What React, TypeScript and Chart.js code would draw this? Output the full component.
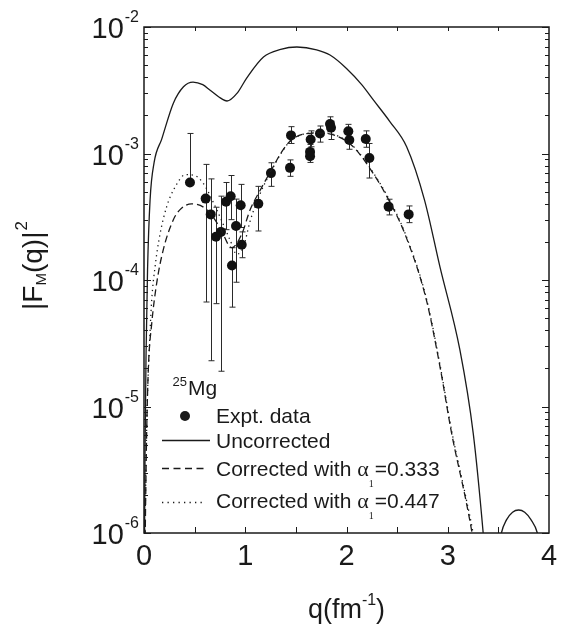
import React, { useEffect, useRef } from "react";
import { Chart, registerables } from "chart.js";
Chart.register(...registerables);

// ---- Uncorrected (solid) ----
const solidQ = [0.004, 0.01, 0.02, 0.035, 0.06, 0.1, 0.175, 0.29, 0.39, 0.484, 0.58, 0.65, 0.74, 0.82, 0.92, 1.014, 1.18, 1.35, 1.51, 1.705, 1.837, 2.0, 2.15, 2.265, 2.43, 2.594, 2.77, 2.923, 3.12, 3.252, 3.35, 3.38, 3.45, 3.5, 3.53, 3.58, 3.64, 3.7, 3.76, 3.82, 3.885, 3.92];
const solidF: (number | null)[] = [5e-7, 4e-6, 2.5e-5, 1.2e-4, 4.3e-4, 8.5e-4, 1.3e-3, 2.5e-3, 3.37e-3, 3.67e-3, 3.5e-3, 3.18e-3, 2.8e-3, 2.6e-3, 3.0e-3, 3.95e-3, 5.8e-3, 6.66e-3, 6.95e-3, 6.6e-3, 6.0e-3, 4.7e-3, 3.5e-3, 2.65e-3, 1.78e-3, 1.13e-3, 4.3e-4, 1.27e-4, 2.8e-5, 6.1e-6, 1e-6, 5e-7, null, 7e-7, 1e-6, 1.27e-6, 1.46e-6, 1.52e-6, 1.46e-6, 1.28e-6, 1e-6, 7e-7];

// ---- Corrected with alpha1 = 0.333 (dashed) ----
const dashQ = [0.008, 0.015, 0.026, 0.043, 0.076, 0.125, 0.19, 0.29, 0.356, 0.47, 0.62, 0.75, 0.866, 0.965, 1.047, 1.146, 1.277, 1.36, 1.442, 1.573, 1.738, 1.9, 2.067, 2.232, 2.397, 2.578, 2.79, 2.923, 3.039, 3.18, 3.24, 3.27];
const dashF = [5e-7, 1.5e-6, 6e-6, 2e-5, 4.5e-5, 9.4e-5, 1.73e-4, 3e-4, 3.6e-4, 4e-4, 3.6e-4, 2.6e-4, 1.8e-4, 2.3e-4, 3.57e-4, 5.1e-4, 7.9e-4, 1.03e-3, 1.25e-3, 1.42e-3, 1.45e-3, 1.38e-3, 1.13e-3, 7.6e-4, 4.6e-4, 2.3e-4, 6.9e-5, 2.07e-5, 6.1e-6, 1.8e-6, 1e-6, 7e-7];

// ---- Corrected with alpha1 = 0.447 (dotted) ----
const dotQ = [0.008, 0.015, 0.033, 0.052, 0.076, 0.109, 0.158, 0.224, 0.3, 0.41, 0.5, 0.586, 0.718, 0.85, 0.915, 0.98, 1.047, 1.146, 1.277, 1.36, 1.442, 1.573, 1.738, 1.9, 2.067, 2.232, 2.397, 2.578, 2.79, 2.923, 3.039, 3.18, 3.25, 3.28];
const dotF = [6e-7, 2e-6, 1.1e-5, 2.8e-5, 6.9e-5, 1.27e-4, 2.3e-4, 3.8e-4, 5.3e-4, 6.8e-4, 6.7e-4, 5.8e-4, 3.6e-4, 2.07e-4, 1.6e-4, 1.8e-4, 2.9e-4, 4.8e-4, 7.8e-4, 1.02e-3, 1.25e-3, 1.42e-3, 1.46e-3, 1.39e-3, 1.14e-3, 7.7e-4, 4.7e-4, 2.35e-4, 7.1e-5, 2.15e-5, 6.4e-6, 1.9e-6, 1e-6, 7e-7];

// ---- Experimental data ----
const expQ = [0.454, 0.609, 0.659, 0.711, 0.76, 0.81, 0.856, 0.869, 0.909, 0.955, 0.965, 1.129, 1.254, 1.442, 1.452, 1.64, 1.64, 1.646, 1.738, 1.837, 1.847, 2.018, 2.028, 2.19, 2.226, 2.416, 2.614];
const expF = [5.9e-4, 4.4e-4, 3.3e-4, 2.2e-4, 2.4e-4, 4.16e-4, 4.6e-4, 1.3e-4, 2.67e-4, 3.9e-4, 1.9e-4, 4.0e-4, 7.0e-4, 7.7e-4, 1.39e-3, 1.03e-3, 9.5e-4, 1.29e-3, 1.44e-3, 1.71e-3, 1.6e-3, 1.5e-3, 1.28e-3, 1.3e-3, 9.2e-4, 3.8e-4, 3.3e-4];
const expLo = [5.9e-4, 6.7e-5, 2.3e-5, 6.5e-5, 1.9e-5, 2.5e-4, 3.0e-4, 6.1e-5, 9.6e-5, 2.6e-4, 1.5e-4, 2.44e-4, 5.5e-4, 6.6e-4, 1.2e-3, 9.0e-4, 8.5e-4, 1.13e-3, 1.23e-3, 1.5e-3, 1.29e-3, 1.3e-3, 1.08e-3, 1.12e-3, 6.4e-4, 3.27e-4, 2.84e-4];
const expHi = [1.44e-3, 8.2e-4, 6.3e-4, 3.76e-4, 4.6e-4, 5.9e-4, 6.7e-4, 1.8e-4, 4.36e-4, 5.7e-4, 2.4e-4, 5.5e-4, 8.45e-4, 8.9e-4, 1.63e-3, 1.18e-3, 1.07e-3, 1.51e-3, 1.65e-3, 1.95e-3, 1.8e-3, 1.7e-3, 1.45e-3, 1.51e-3, 1.2e-3, 4.35e-4, 3.85e-4];

// ---- Axes ----
const xTickValues = [0, 1, 2, 3, 4];
const xTickLabels = ["0", "1", "2", "3", "4"];
const yDecades = [-6, -5, -4, -3, -2];
const yTickExps = ["-6", "-5", "-4", "-3", "-2"];

const legendTitle = { sup: "25", main: "Mg" };
const legendLabels = ["Expt. data", "Uncorrected", "Corrected with ", "Corrected with "];
const alphaValues = ["=0.333", "=0.447"];

const SANS = '"Liberation Sans", Arial, Helvetica, sans-serif';
const SERIF = '"Liberation Serif", "Times New Roman", serif';
const INK = "#1a1a1a";

const zip = (q: number[], f: (number | null)[]) => q.map((v, i) => ({ x: v, y: f[i] }));

const decor = {
  id: "decor",
  beforeDatasetsDraw(chart: any) {
    const { ctx, scales } = chart;
    const x = scales.x, y = scales.y;
    ctx.save();
    ctx.strokeStyle = "#2a2a2a";
    ctx.lineWidth = 1;
    for (let i = 0; i < expQ.length; i++) {
      const px = Math.round(x.getPixelForValue(expQ[i])) + 0.5;
      const yl = y.getPixelForValue(expLo[i]);
      const yh = y.getPixelForValue(expHi[i]);
      ctx.beginPath();
      ctx.moveTo(px, yl);
      ctx.lineTo(px, yh);
      ctx.moveTo(px - 3, yh);
      ctx.lineTo(px + 3, yh);
      ctx.moveTo(px - 3, yl);
      ctx.lineTo(px + 3, yl);
      ctx.stroke();
    }
    ctx.restore();
  },
  afterDraw(chart: any) {
    const { ctx, chartArea, scales } = chart;
    const x = scales.x, y = scales.y;
    const { left, right, top, bottom } = chartArea;
    ctx.save();
    ctx.strokeStyle = INK;
    ctx.fillStyle = INK;

    // ticks
    ctx.lineWidth = 1;
    ctx.beginPath();
    for (let v = 0.5; v < 4; v += 0.5) {
      const px = Math.round(x.getPixelForValue(v)) + 0.5;
      ctx.moveTo(px, bottom);
      ctx.lineTo(px, bottom - 6);
      ctx.moveTo(px, top);
      ctx.lineTo(px, top + 4);
    }
    for (const d of yDecades) {
      for (let m = 1; m <= 9; m++) {
        const val = m * Math.pow(10, d);
        if (val > 1.0001e-2 || val < 0.9999e-6) continue;
        const py = Math.round(y.getPixelForValue(val)) + 0.5;
        const len = m === 1 ? 7 : 4;
        ctx.moveTo(left, py);
        ctx.lineTo(left + len, py);
        ctx.moveTo(right, py);
        ctx.lineTo(right - len, py);
      }
    }
    ctx.stroke();

    // frame
    ctx.lineWidth = 1.5;
    ctx.strokeRect(left, top, right - left, bottom - top);

    // x tick labels
    ctx.font = `29px ${SANS}`;
    ctx.textAlign = "center";
    ctx.textBaseline = "alphabetic";
    xTickValues.forEach((v, i) => {
      ctx.fillText(xTickLabels[i], x.getPixelForValue(v), bottom + 32);
    });

    // y tick labels 10^n
    yDecades.forEach((d, i) => {
      const py = y.getPixelForValue(Math.pow(10, d));
      ctx.font = `16px ${SANS}`;
      ctx.textAlign = "left";
      const supW = ctx.measureText(yTickExps[i]).width;
      const supX = left - 5 - supW;
      ctx.fillText(yTickExps[i], supX, py - 5);
      ctx.font = `29px ${SANS}`;
      ctx.textAlign = "right";
      ctx.fillText("10", supX - 1, py + 11);
    });

    // x title q(fm^-1)
    {
      const cx = (left + right) / 2;
      const base = bottom + 85;
      ctx.textAlign = "left";
      ctx.font = `27px ${SANS}`;
      const w1 = ctx.measureText("q(fm").width;
      const w3 = ctx.measureText(")").width;
      ctx.font = `16px ${SANS}`;
      const w2 = ctx.measureText("-1").width;
      let sx = cx - (w1 + w2 + w3) / 2;
      ctx.font = `27px ${SANS}`;
      ctx.fillText("q(fm", sx, base);
      sx += w1;
      ctx.font = `16px ${SANS}`;
      ctx.fillText("-1", sx, base - 13);
      sx += w2;
      ctx.font = `27px ${SANS}`;
      ctx.fillText(")", sx, base);
    }

    // y title |F_M(q)|^2
    {
      ctx.save();
      ctx.translate(42, 266);
      ctx.rotate(-Math.PI / 2);
      ctx.textAlign = "left";
      ctx.font = `28px ${SANS}`;
      const a = ctx.measureText("|F").width;
      const c = ctx.measureText("(q)|").width;
      ctx.font = `15px ${SANS}`;
      const b = ctx.measureText("M").width;
      ctx.font = `17px ${SANS}`;
      const e = ctx.measureText("2").width;
      let sx = -(a + b + c + e) / 2;
      ctx.font = `28px ${SANS}`;
      ctx.fillText("|F", sx, 0);
      sx += a;
      ctx.font = `15px ${SANS}`;
      ctx.fillText("M", sx, 4);
      sx += b;
      ctx.font = `28px ${SANS}`;
      ctx.fillText("(q)|", sx, 0);
      sx += c;
      ctx.font = `17px ${SANS}`;
      ctx.fillText("2", sx + 1, -15);
      ctx.restore();
    }

    // legend
    {
      const tx = 216;
      ctx.textAlign = "left";
      ctx.font = `13px ${SANS}`;
      ctx.textAlign = "right";
      ctx.fillText(legendTitle.sup, 187, 386);
      ctx.textAlign = "left";
      ctx.font = `21px ${SANS}`;
      ctx.fillText(legendTitle.main, 188, 395);

      // Expt. data
      ctx.beginPath();
      ctx.arc(185, 416, 5, 0, Math.PI * 2);
      ctx.fill();
      ctx.fillText(legendLabels[0], tx, 423);

      // Uncorrected
      ctx.lineWidth = 1.3;
      ctx.setLineDash([]);
      ctx.beginPath();
      ctx.moveTo(162, 440.5);
      ctx.lineTo(210, 440.5);
      ctx.stroke();
      ctx.fillText(legendLabels[1], tx, 448);

      // dashed
      ctx.setLineDash([7, 4.5]);
      ctx.beginPath();
      ctx.moveTo(162, 468.5);
      ctx.lineTo(204, 468.5);
      ctx.stroke();
      // dotted
      ctx.setLineDash([1.3, 4.2]);
      ctx.beginPath();
      ctx.moveTo(162, 502.5);
      ctx.lineTo(206, 502.5);
      ctx.stroke();
      ctx.setLineDash([]);

      const rows = [476, 508];
      rows.forEach((base, i) => {
        ctx.font = `21px ${SANS}`;
        ctx.fillText(legendLabels[2 + i], tx, base);
        let sx = tx + ctx.measureText(legendLabels[2 + i]).width;
        ctx.font = `22px ${SERIF}`;
        ctx.fillText("\u03B1", sx, base);
        sx += ctx.measureText("\u03B1").width;
        ctx.font = `10px ${SERIF}`;
        ctx.fillText("1", sx, base + 11);
        sx += ctx.measureText("1").width + 1;
        ctx.font = `21px ${SANS}`;
        ctx.fillText(alphaValues[i], sx, base);
      });
    }
    ctx.restore();
  },
};

export default function App() {
  const ref = useRef<HTMLCanvasElement | null>(null);
  useEffect(() => {
    if (!ref.current) return;
    const lineBase = {
      pointRadius: 0,
      borderColor: INK,
      borderWidth: 1.3,
      fill: false,
      cubicInterpolationMode: "monotone" as const,
      spanGaps: false,
    };
    const chart = new Chart(ref.current, {
      type: "line",
      data: {
        datasets: [
          { ...lineBase, label: "Uncorrected", data: zip(solidQ, solidF) },
          { ...lineBase, label: "Corrected with α1=0.333", data: zip(dashQ, dashF), borderDash: [7, 4] },
          { ...lineBase, label: "Corrected with α1=0.447", data: zip(dotQ, dotF), borderDash: [1.3, 3.7] },
          {
            label: "Expt. data",
            data: zip(expQ, expF),
            showLine: false,
            pointRadius: 5,
            pointBackgroundColor: "#111",
            pointBorderColor: "#111",
            pointBorderWidth: 0,
          },
        ],
      },
      options: {
        animation: false,
        responsive: false,
        maintainAspectRatio: false,
        layout: { padding: { left: 144, top: 27, right: 12, bottom: 93 } },
        plugins: { legend: { display: false }, tooltip: { enabled: false } },
        scales: {
          x: { type: "linear", min: 0, max: 4, display: false },
          y: { type: "logarithmic", min: 1e-6, max: 1e-2, display: false },
        },
      },
      plugins: [decor],
    } as any);
    return () => chart.destroy();
  }, []);
  return (
    <div style={{ position: "absolute", left: 0, top: 0, width: 561, height: 626, background: "#fff" }}>
      <canvas ref={ref} width={561} height={626} style={{ width: 561, height: 626, display: "block" }} />
    </div>
  );
}
